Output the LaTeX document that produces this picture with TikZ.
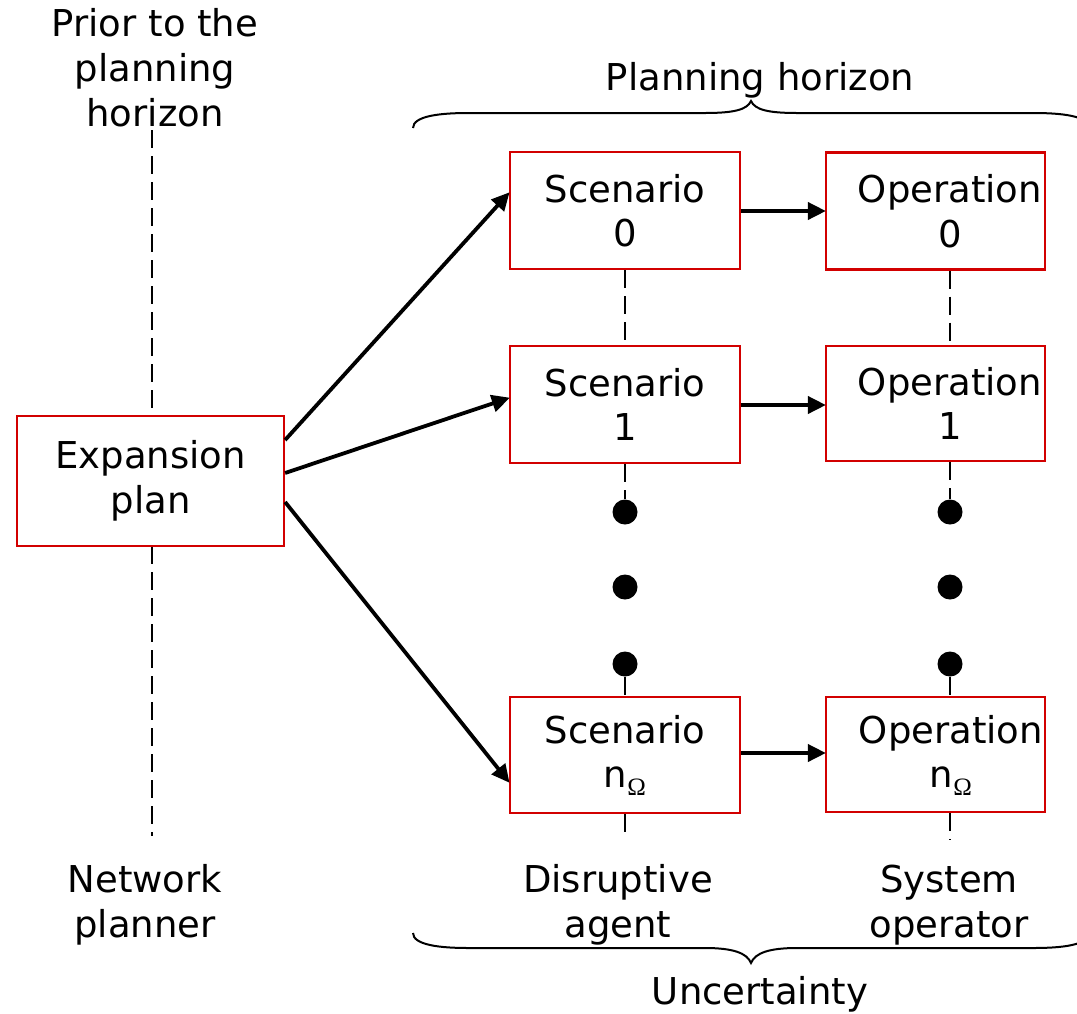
\documentclass[tikz,border=0pt]{standalone}
\usepackage{fontspec}
\setmainfont{DejaVu Sans}
\newfontfamily\omegafont{Liberation Serif}
\usetikzlibrary{arrows.meta}
\definecolor{boxred}{RGB}{210,0,0}
\newcommand{\nOmega}{n\raisebox{-0.2em}{\omegafont\fontsize{25}{25}\selectfont Ω}}
\tikzset{
  every node/.style={font=\fontsize{37}{44.5}\selectfont, align=center, inner sep=0pt},
  box/.style={draw=boxred, line width=2.2pt, fill=white, minimum width=230pt, minimum height=117pt},
  link/.style={line width=3.8pt, -{Triangle[length=18pt,width=17pt]}, shorten >=-1pt},
  guide/.style={line width=2.6pt, dash pattern=on 18pt off 8pt},
  dot/.style={circle, fill=black, minimum size=25pt},
  bracepath/.style={line width=2pt}
}
\begin{document}
\begin{tikzpicture}[x=1pt, y=-1pt]
\useasboundingbox (0,0) rectangle (1077,1013);
\clip (0,0) rectangle (1077,1013);
% guide line of the network planner
\coordinate (lt) at (152,130);
\coordinate (lb) at (152,836);
\draw[guide] (lt) -- (lb);
% boxes
\node[box, minimum width=267pt, minimum height=130pt] (exp) at (150.5,481) {Expansion\\plan};
\node[box] (s0) at (625,210.5) {Scenario\\0};
\node[box, minimum width=219pt] (o0) at (935.5,211) {};
\node[box] (s1) at (625,404.5) {Scenario\\1};
\node[box, minimum width=219pt, minimum height=115pt] (o1) at (935.5,403.5) {};
\node[box, minimum height=116pt] (sn) at (625,755) {Scenario\\\nOmega};
\node[box, minimum width=219pt, minimum height=115pt] (on) at (935.5,754.5) {};
\node (o0t) at (950,211) {Operation\\0};
\node (o1t) at (950,403.5) {Operation\\1};
\node (ont) at (951,755) {Operation\\\nOmega};
% dots
\node[dot] (d1) at (625,512) {};
\node[dot] (d2) at (625,587) {};
\node[dot] (d3) at (625,664) {};
\node[dot] (e1) at (950,512) {};
\node[dot] (e2) at (950,587) {};
\node[dot] (e3) at (950,664) {};
\coordinate (sb) at (625,840);
\coordinate (ob) at (950,840);
% vertical dashed connectors
\draw[guide] (s0.south) -- (s1.north);
\draw[guide] (s1.south) -- (d1);
\draw[guide] (d3) -- (sn.north);
\draw[guide] (sn.south) -- (sb);
\draw[guide] (o0.south -| e1) -- (o1.north -| e1);
\draw[guide] (o1.south -| e1) -- (e1);
\draw[guide] (e3) -- (on.north -| e3);
\draw[guide] (on.south -| e3) -- (ob);
% arrows
\draw[link] (exp.east |- 0,440) -- (s0.west |- 0,193);
\draw[link] (exp.east |- 0,473) -- (s1.west |- 0,398);
\draw[link] (exp.east |- 0,502) -- (sn.west |- 0,782);
\draw[link] (s0.east |- 0,211) -- (o0.west |- 0,211);
\draw[link] (s1.east |- 0,405) -- (o1.west |- 0,405);
\draw[link] (sn.east |- 0,753) -- (on.west |- 0,753);
% braces
\coordinate (tl) at (413,128);
\coordinate (tt) at (751,101);
\coordinate (tr) at (1089,128);
\draw[bracepath] (tl) .. controls (413,116) and (440,113) .. (468,113) -- (705,113)
  .. controls (733,113) and (747,110) .. (tt)
  .. controls (755,110) and (769,113) .. (797,113) -- (1034,113)
  .. controls (1062,113) and (1089,116) .. (tr);
\coordinate (bl) at (413,933);
\coordinate (bt) at (751,963);
\coordinate (br) at (1089,933);
\draw[bracepath] (bl) .. controls (413,945) and (440,948) .. (468,948) -- (705,948)
  .. controls (733,948) and (747,953) .. (bt)
  .. controls (755,953) and (769,948) .. (797,948) -- (1034,948)
  .. controls (1062,948) and (1089,945) .. (br);
% labels
\node[anchor=base] (ph) at (760,90) {Planning horizon};
\node[anchor=base] (unc) at (760,1004) {Uncertainty};
\node[anchor=base] (prior1) at (155,36) {Prior to the};
\node[anchor=base] (prior2) at (155,81) {planning};
\node[anchor=base] (prior3) at (155,126) {horizon};
\node[anchor=base] (np1) at (145,892) {Network};
\node[anchor=base] (np2) at (145,937) {planner};
\node[anchor=base] (da1) at (618,892) {Disruptive};
\node[anchor=base] (da2) at (618,937) {agent};
\node[anchor=base] (so1) at (949,892) {System};
\node[anchor=base] (so2) at (949,937) {operator};
\end{tikzpicture}
\end{document}
